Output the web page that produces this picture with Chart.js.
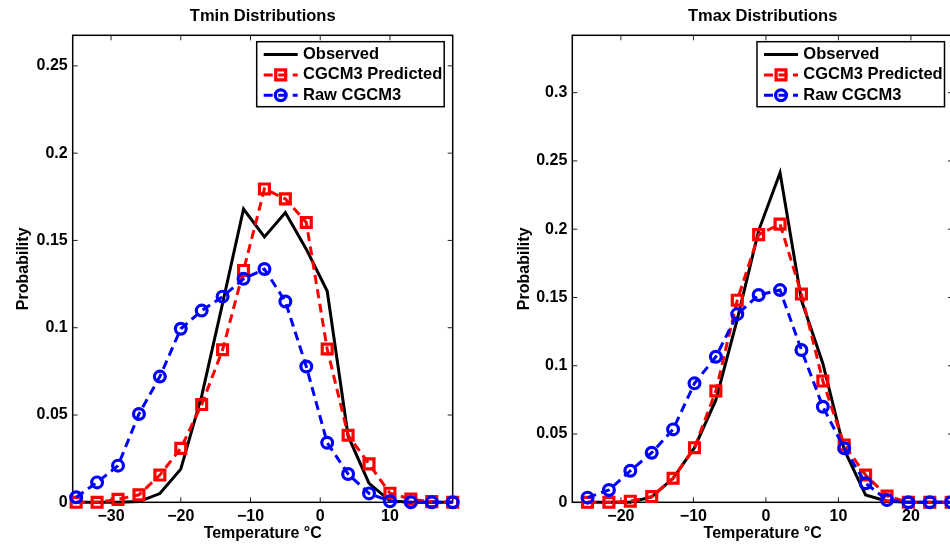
<!DOCTYPE html>
<html>
<head>
<meta charset="utf-8">
<script src="https://cdn.jsdelivr.net/npm/chart.js@4.4.1/dist/chart.umd.min.js"></script>
<style>
    html, body { margin: 0; padding: 0; background: #fff; overflow: hidden; width: 950px; height: 546px; }
    canvas { position: absolute; top: 0; }
    #tminChart { left: 0; }
    #tmaxChart { left: 480px; }
</style>
</head>
<body>
<canvas id="tminChart" width="480" height="546"></canvas>
<canvas id="tmaxChart" width="520" height="546"></canvas>
<script>
// Tmin panel
var tminTemps = [-35, -32, -29, -26, -23, -20, -17, -14, -11, -8, -5, -2, 1, 4, 7, 10, 13, 16, 19];
var tminObserved = [0, 0, 0, 0.0004, 0.005, 0.019, 0.061, 0.114, 0.168, 0.152, 0.166, 0.145, 0.121, 0.038, 0.0108, 0.0008, 0, 0, 0];
var tminPredicted = [0, 0, 0.0017, 0.0043, 0.0156, 0.0309, 0.0560, 0.0874, 0.1328, 0.1795, 0.1738, 0.1603, 0.0878, 0.0384, 0.0220, 0.0052, 0.0018, 0.0004, 0];
var tminRaw = [0.0029, 0.0114, 0.0210, 0.0506, 0.0720, 0.0994, 0.1098, 0.1178, 0.1280, 0.1336, 0.1150, 0.0778, 0.0341, 0.0162, 0.0051, 0.0006, 0, 0, 0];
var tminXTicks = [-30, -20, -10, 0, 10];
var tminYTicks = [0, 0.05, 0.1, 0.15, 0.2, 0.25];

// Tmax panel
var tmaxTemps = [-24.6, -21.65, -18.7, -15.75, -12.8, -9.85, -6.9, -3.95, -1, 1.95, 4.9, 7.85, 10.8, 13.75, 16.7, 19.65, 22.6, 25.55];
var tmaxObserved = [0, 0, 0, 0.004, 0.0176, 0.040, 0.075, 0.134, 0.199, 0.2413, 0.148, 0.1017, 0.0385, 0.0053, 0.0008, 0, 0, 0];
var tmaxPredicted = [0, 0, 0.0008, 0.0042, 0.0176, 0.040, 0.0815, 0.148, 0.196, 0.2037, 0.1525, 0.0888, 0.042, 0.020, 0.0046, 0, 0, 0];
var tmaxRaw = [0.0034, 0.009, 0.0231, 0.0363, 0.0534, 0.0871, 0.1066, 0.1378, 0.1518, 0.1554, 0.1115, 0.070, 0.0395, 0.0139, 0.0017, 0, 0, 0];
var tmaxXTicks = [-20, -10, 0, 10, 20];
var tmaxYTicks = [0, 0.05, 0.1, 0.15, 0.2, 0.25, 0.3];

var FONT = '"Liberation Sans", Arial, Helvetica, sans-serif';
Chart.defaults.font.family = FONT;
Chart.defaults.color = '#000';

var fmt = function (v) {
    return String(v).replace('-', '\u2212');
};

// matlab style box with inward ticks on all four sides
var axesBox = {
    id: 'axesBox',
    beforeDatasetsDraw: function (chart) {
        var a = chart.chartArea, ctx = chart.ctx;
        var xs = chart.scales.x, ys = chart.scales.y;
        ctx.save();
        ctx.lineWidth = 1;
        ctx.strokeStyle = '#222';
        ctx.beginPath();
        xs.ticks.forEach(function (t) {
            var px = xs.getPixelForValue(t.value);
            ctx.moveTo(px, a.bottom); ctx.lineTo(px, a.bottom - 5);
            ctx.moveTo(px, a.top); ctx.lineTo(px, a.top + 5);
        });
        ys.ticks.forEach(function (t) {
            var py = ys.getPixelForValue(t.value);
            ctx.moveTo(a.left, py); ctx.lineTo(a.left + 5, py);
            ctx.moveTo(a.right, py); ctx.lineTo(a.right - 5, py);
        });
        ctx.stroke();
        ctx.lineWidth = 1.5;
        ctx.strokeStyle = '#000';
        ctx.strokeRect(a.left, a.top, a.right - a.left, a.bottom - a.top);
        ctx.restore();
    }
};

// boxed legend in the top right corner of the plot
var boxLegend = {
    id: 'boxLegend',
    afterDraw: function (chart) {
        var a = chart.chartArea, ctx = chart.ctx;
        var w = 187.5, h = 65;
        var bx = a.right - 8.5 - w, by = a.top + 6.4;
        ctx.save();
        ctx.fillStyle = '#fff';
        ctx.fillRect(bx, by, w, h);
        ctx.lineWidth = 1.5;
        ctx.strokeStyle = '#000';
        ctx.strokeRect(bx, by, w, h);
        chart.data.datasets.forEach(function (ds, i) {
            var y = by + 12.8 + i * 20.4;
            ctx.setLineDash(ds.borderDash || []);
            ctx.strokeStyle = ds.borderColor;
            ctx.lineWidth = ds.borderWidth;
            ctx.beginPath();
            ctx.moveTo(bx + 7, y);
            ctx.lineTo(bx + 41, y);
            ctx.stroke();
            ctx.setLineDash([]);
            if (ds.pointRadius) {
                ctx.lineWidth = ds.pointBorderWidth;
                ctx.beginPath();
                if (ds.pointStyle === 'rect') {
                    var s = ds.pointRadius * Math.SQRT1_2;
                    ctx.rect(bx + 24 - s, y - s, 2 * s, 2 * s);
                } else {
                    ctx.arc(bx + 24, y, ds.pointRadius, 0, 2 * Math.PI);
                }
                ctx.stroke();
            }
            ctx.fillStyle = '#000';
            ctx.font = 'bold 16.5px ' + FONT;
            ctx.textBaseline = 'middle';
            ctx.textAlign = 'left';
            ctx.fillText(ds.label, bx + 46.3, y);
        });
        ctx.restore();
    }
};

function makeDatasets(temps, observed, predicted, raw) {
    var pts = function (vals) {
        return vals.map(function (v, i) { return {x: temps[i], y: v}; });
    };
    return [{
        label: 'Observed',
        data: pts(observed),
        borderColor: '#000',
        borderWidth: 3,
        pointRadius: 0,
        order: 3
    }, {
        label: 'CGCM3 Predicted',
        data: pts(predicted),
        borderColor: 'rgb(255, 0, 0)',
        borderWidth: 3,
        borderDash: [9, 5.5],
        pointStyle: 'rect',
        pointRadius: 7,
        pointBorderWidth: 3.2,
        pointBorderColor: 'rgb(255, 0, 0)',
        pointBackgroundColor: 'rgba(0, 0, 0, 0)',
        order: 2
    }, {
        label: 'Raw CGCM3',
        data: pts(raw),
        borderColor: 'rgb(0, 0, 255)',
        borderWidth: 3,
        borderDash: [9, 5.5],
        pointStyle: 'circle',
        pointRadius: 5.4,
        pointBorderWidth: 3.2,
        pointBorderColor: 'rgb(0, 0, 255)',
        pointBackgroundColor: 'rgba(0, 0, 0, 0)',
        order: 1
    }];
}

function makeConfig(title, datasets, xMin, xMax, xTicks, yMax, yTicks, yWidth, yTitlePad, padRight) {
    return {
        type: 'line',
        data: {datasets: datasets},
        options: {
            responsive: false,
            animation: false,
            devicePixelRatio: 1,
            layout: {padding: {left: 0, right: padRight, top: 0, bottom: 0}},
            elements: {line: {tension: 0, fill: false}},
            datasets: {line: {clip: false}},
            scales: {
                x: {
                    type: 'linear',
                    position: 'bottom',
                    min: xMin,
                    max: xMax,
                    grid: {display: false, drawTicks: false},
                    border: {display: false},
                    afterBuildTicks: function (axis) {
                        axis.ticks = xTicks.map(function (v) { return {value: v}; });
                    },
                    afterFit: function (axis) { axis.height = 43.7; },
                    ticks: {padding: 5, maxRotation: 0, autoSkip: false, font: {size: 16, weight: 'bold'}, callback: fmt},
                    title: {display: true, text: 'Temperature \u00b0C', font: {size: 16, weight: 'bold'}, padding: {top: 0, bottom: 2.4}}
                },
                y: {
                    type: 'linear',
                    position: 'left',
                    min: 0,
                    max: yMax,
                    grid: {display: false, drawTicks: false},
                    border: {display: false},
                    afterBuildTicks: function (axis) {
                        axis.ticks = yTicks.map(function (v) { return {value: v}; });
                    },
                    afterFit: function (axis) { axis.width = yWidth; },
                    ticks: {padding: 5, autoSkip: false, font: {size: 16, weight: 'bold'}, callback: fmt},
                    title: {display: true, text: 'Probability', font: {size: 16, weight: 'bold'}, padding: {top: yTitlePad, bottom: 0}}
                }
            },
            plugins: {
                title: {
                    display: true,
                    text: title,
                    fullSize: false,
                    color: '#000',
                    font: {size: 16.5, weight: 'bold'},
                    padding: {top: 6.8, bottom: 8.7}
                },
                legend: {display: false},
                tooltip: {enabled: false}
            }
        },
        plugins: [axesBox, boxLegend]
    };
}

var tminConfig = makeConfig('Tmin Distributions',
    makeDatasets(tminTemps, tminObserved, tminPredicted, tminRaw),
    -35.5, 19, tminXTicks, 0.2675, tminYTicks, 72.7, 14.1, 27.3);
var tmaxConfig = makeConfig('Tmax Distributions',
    makeDatasets(tmaxTemps, tmaxObserved, tmaxPredicted, tmaxRaw),
    -26.7, 25.8, tmaxXTicks, 0.342, tmaxYTicks, 92.3, 35, 47);

window.tminChart = new Chart(document.getElementById('tminChart').getContext('2d'), tminConfig);
window.tmaxChart = new Chart(document.getElementById('tmaxChart').getContext('2d'), tmaxConfig);
</script>
</body>
</html>
